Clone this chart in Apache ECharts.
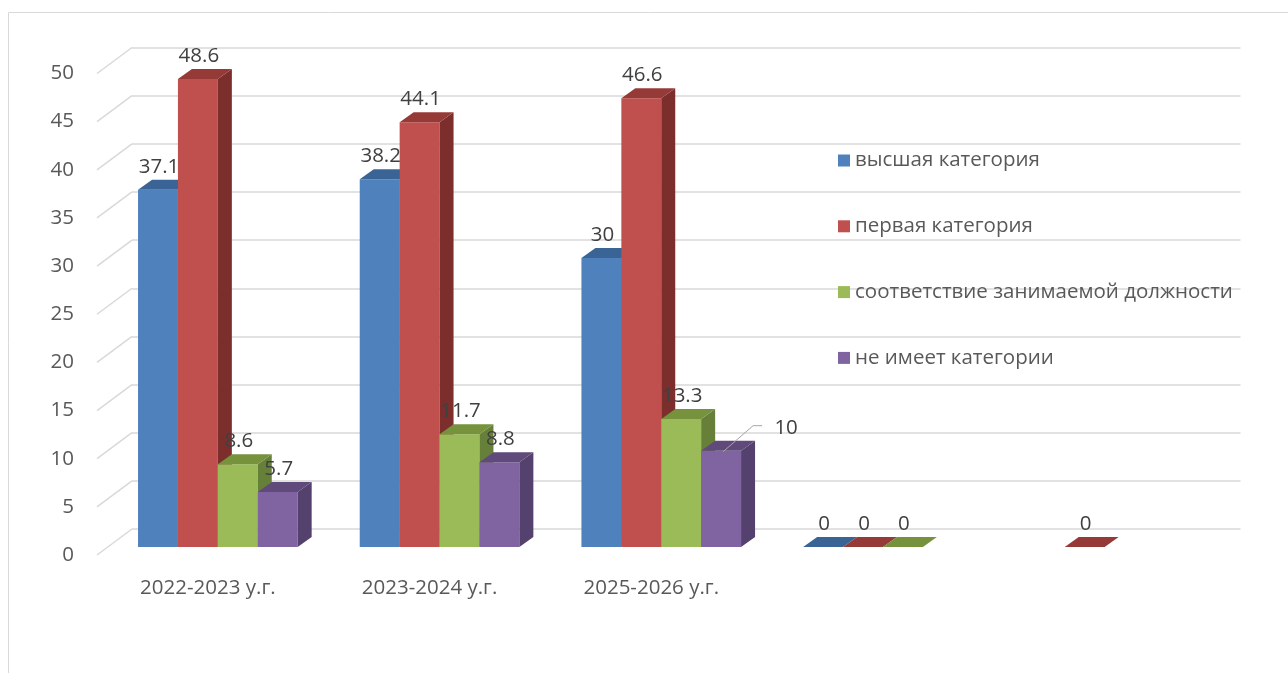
<!DOCTYPE html>
<html>
<head>
<meta charset="utf-8">
<script src="https://cdn.jsdelivr.net/npm/echarts@6/dist/echarts.min.js"></script>
<style>
  html, body { margin: 0; padding: 0; background: #fff; }
  #chart { width: 1288px; height: 673px; }
</style>
</head>
<body>
<div id="chart"></div>
<script>
var categories = ['2022-2023 у.г.', '2023-2024 у.г.', '2025-2026 у.г.', '', ''];
var seriesNames = ['высшая категория', 'первая категория', 'соответствие занимаемой должности', 'не имеет категории'];
var vysshaya = [37.1, 38.2, 30, 0, null];
var pervaya = [48.6, 44.1, 46.6, 0, 0];
var sootvetstvie = [8.6, 11.7, 13.3, 0, null];
var neImeet = [5.7, 8.8, 10, null, null];
var yTicks = [0, 5, 10, 15, 20, 25, 30, 35, 40, 45, 50];

var font = '"Open Sans", "Noto Sans", sans-serif';
var fs = 20.5;
var colors = ['#4F81BD', '#C0504D', '#9BBB59', '#8064A2'];
var topColors = ['#3B6496', '#963A38', '#76923C', '#604A7B'];
var sideColors = ['#345784', '#7B2E2C', '#66803A', '#54416D'];
var barDepth = [14, -10];
var floorDepth = [35, -26];

var chart = echarts.init(document.getElementById('chart'));

function toData(arr) {
    var out = [];
    arr.forEach(function (v, i) {
        if (v !== null) out.push([i, v]);
    });
    return out;
}

function makeRender(s) {
    return function (params, api) {
        var idx = api.value(0);
        var v = api.value(1);
        var base = api.coord([idx, 0]);
        var top = api.coord([idx, v]);
        var band = api.size([1, 0])[0];
        var w = band * 0.18;
        var x = base[0] - 2 * w + s * w;
        var yb = base[1], yt = top[1];
        var dx = barDepth[0], dy = barDepth[1];
        var children = [];
        if (yb - yt > 0.5) {
            children.push({
                type: 'rect',
                shape: {x: x, y: yt, width: w, height: yb - yt},
                style: {fill: colors[s]}
            });
            children.push({
                type: 'polygon',
                shape: {points: [[x + w, yt], [x + w + dx, yt + dy], [x + w + dx, yb + dy], [x + w, yb]]},
                style: {fill: sideColors[s]}
            });
        }
        children.push({
            type: 'polygon',
            shape: {points: [[x, yt], [x + w, yt], [x + w + dx, yt + dy], [x + dx, yt + dy]]},
            style: {fill: topColors[s]}
        });
        var lx = x + w / 2 + 1, ly = yt - 23;
        // leader line for the shifted "10" label
        if (s === 3 && idx === 2) {
            var sx = x + w / 2 + 2, sy = yt + 1;
            children.push({
                type: 'polyline',
                shape: {points: [[sx, sy], [sx + 30, sy - 26], [sx + 39, sy - 26]]},
                style: {stroke: '#a6a6a6', lineWidth: 1, fill: null}
            });
            lx = sx + 63;
            ly = sy - 24;
        }
        children.push({
            type: 'text',
            style: {
                text: String(v),
                x: lx,
                y: ly,
                align: 'center',
                verticalAlign: 'middle',
                fill: '#404040',
                font: fs + 'px ' + font
            }
        });
        return {type: 'group', children: children};
    };
}

var allValues = [vysshaya, pervaya, sootvetstvie, neImeet];
var barSeries = allValues.map(function (arr, s) {
    return {
        name: seriesNames[s],
        type: 'custom',
        xAxisIndex: 0,
        yAxisIndex: 0,
        itemStyle: {color: colors[s]},
        renderItem: makeRender(s),
        encode: {x: 0, y: 1},
        data: toData(arr),
        clip: false,
        z: 3
    };
});

var option = {
    backgroundColor: '#fff',
    animation: false,
    textStyle: {fontFamily: font},
    graphic: [{
        type: 'rect',
        shape: {x: 8.5, y: 12.5, width: 1400, height: 800},
        style: {fill: null, stroke: '#d9d9d9', lineWidth: 1},
        silent: true
    }],
    legend: {
        orient: 'vertical',
        left: 838,
        top: 150,
        padding: 0,
        icon: 'rect',
        itemWidth: 12,
        itemHeight: 12,
        itemGap: 44.8,
        textStyle: {fontSize: fs, color: '#595959', lineHeight: 20, fontFamily: font},
        data: seriesNames
    },
    grid: [
        // bar plane
        {left: 107, top: 65.5, width: 1108.5, height: 481.5},
        // back wall
        {left: 132, top: 47.5, width: 1108.5, height: 481.5},
        // front (label) plane
        {left: 97, top: 73.5, width: 1108.5, height: 481.5}
    ],
    xAxis: [
        {gridIndex: 0, type: 'category', data: categories, boundaryGap: true, show: false},
        {gridIndex: 1, type: 'value', min: 0, max: 1, show: false},
        {
            gridIndex: 2, type: 'category', data: categories, boundaryGap: true,
            axisLine: {show: false}, axisTick: {show: false},
            axisLabel: {fontSize: fs, color: '#595959', margin: 22.5, fontFamily: font, interval: 0}
        }
    ],
    yAxis: [
        {gridIndex: 0, type: 'value', min: 0, max: 50, interval: 5, show: false},
        {
            gridIndex: 1, type: 'value', min: 0, max: 50, interval: 5,
            axisLine: {show: false}, axisTick: {show: false}, axisLabel: {show: false},
            splitLine: {show: true, lineStyle: {color: '#d9d9d9', width: 1.5}}
        },
        {
            gridIndex: 2, type: 'value', min: 0, max: 50, interval: 5,
            axisLine: {show: false}, axisTick: {show: false}, splitLine: {show: false},
            axisLabel: {fontSize: fs, color: '#595959', margin: 23, fontFamily: font}
        }
    ],
    series: [{
        type: 'custom',
        xAxisIndex: 1,
        yAxisIndex: 1,
        silent: true,
        clip: false,
        z: 1,
        data: yTicks.map(function (t) { return [0, t]; }),
        renderItem: function (params, api) {
            var p = api.coord([0, api.value(1)]);
            return {
                type: 'line',
                shape: {x1: p[0] - floorDepth[0], y1: p[1] - floorDepth[1], x2: p[0], y2: p[1]},
                style: {stroke: '#d9d9d9', lineWidth: 1.5}
            };
        }
    }].concat(barSeries)
};

chart.setOption(option);
window.onresize = chart.resize;
</script>
</body>
</html>
